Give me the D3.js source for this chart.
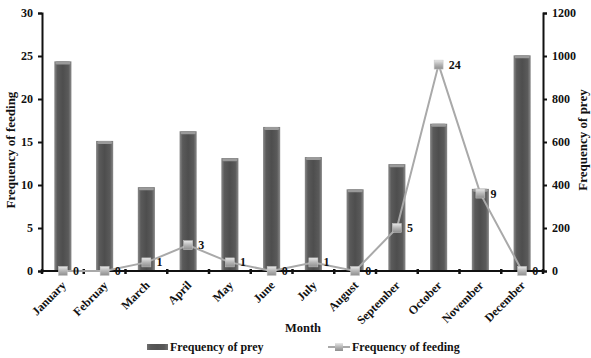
<!DOCTYPE html>
<html>
<head>
<meta charset="utf-8">
<script src="https://cdn.jsdelivr.net/npm/d3@7"></script>
<style>
body{margin:0;background:#fff;}
text{font-family:"Liberation Serif","Times New Roman",serif;font-weight:bold;fill:#111;}
</style>
</head>
<body>
<svg id="c" width="591" height="358"></svg>
<script>
const months = ["January","Februay","March","April","May","June","July","August","September","October","November","December"];
const preyFreq = [975, 605, 390, 650, 525, 670, 530, 380, 497, 685, 382, 1003];
const feedingFreq = [0, 0, 1, 3, 1, 0, 1, 0, 5, 24, 9, 0];
const leftTicks = [0, 5, 10, 15, 20, 25, 30];
const rightTicks = [0, 200, 400, 600, 800, 1000, 1200];

const svg = d3.select("#c");
const L = 42, R = 543, T = 13, B = 271;

const x = d3.scaleBand().domain(months).range([L, R]).padding(0);
const yL = d3.scaleLinear().domain([0, 30]).range([B, T]);
const yR = d3.scaleLinear().domain([0, 1200]).range([B, T]);

const defs = svg.append("defs");
const g1 = defs.append("linearGradient").attr("id","barG").attr("x1","0").attr("x2","1").attr("y1","0").attr("y2","0");
g1.append("stop").attr("offset","0").attr("stop-color","#8a8a8a");
g1.append("stop").attr("offset","0.18").attr("stop-color","#5a5a5a");
g1.append("stop").attr("offset","0.5").attr("stop-color","#4e4e4e");
g1.append("stop").attr("offset","0.82").attr("stop-color","#5a5a5a");
g1.append("stop").attr("offset","1").attr("stop-color","#8a8a8a");
const g2 = defs.append("linearGradient").attr("id","mkG").attr("x1","0").attr("x2","0").attr("y1","0").attr("y2","1");
g2.append("stop").attr("offset","0").attr("stop-color","#e8e8e8");
g2.append("stop").attr("offset","0.5").attr("stop-color","#b5b5b5");
g2.append("stop").attr("offset","1").attr("stop-color","#8e8e8e");

const bw = x.bandwidth() * 0.41;

// bars
const bars = svg.append("g");
bars.selectAll("rect.bar").data(months).join("rect")
  .attr("class","bar")
  .attr("x", d => x(d) + x.bandwidth()/2 - bw/2)
  .attr("width", bw)
  .attr("y", (d,i) => yR(preyFreq[i]))
  .attr("height", (d,i) => B - yR(preyFreq[i]))
  .attr("fill","url(#barG)");
bars.selectAll("rect.cap").data(months).join("rect")
  .attr("class","cap")
  .attr("x", d => x(d) + x.bandwidth()/2 - bw/2 + 1)
  .attr("width", bw - 2)
  .attr("y", (d,i) => yR(preyFreq[i]))
  .attr("height", 3)
  .attr("rx", 1.5)
  .attr("fill","#9a9a9a");

// axes
const axL = svg.append("g").attr("transform",`translate(${L},0)`)
  .call(d3.axisLeft(yL).tickValues(leftTicks).tickSize(4).tickPadding(5).tickFormat(d3.format("d")));
const axR = svg.append("g").attr("transform",`translate(${R},0)`)
  .call(d3.axisRight(yR).tickValues(rightTicks).tickSize(4).tickPadding(5).tickFormat(d3.format("d")));
[axL, axR].forEach(a => {
  a.select(".domain").attr("stroke","#111").attr("stroke-width",2);
  a.selectAll(".tick line").attr("stroke","#111").attr("stroke-width",2);
  a.selectAll("text").style("font-size","12px").style("font-family","Liberation Serif").style("font-weight","bold").attr("fill","#222");
});

// x axis
const axX = svg.append("g").attr("transform",`translate(0,${B})`);
axX.append("line").attr("x1",L).attr("x2",R).attr("stroke","#111").attr("stroke-width",2);
const bounds = months.map(m => x(m)).concat([R]);
axX.selectAll("line.tk").data(bounds).join("line").attr("class","tk")
  .attr("x1", d => d).attr("x2", d => d).attr("y1",-2).attr("y2",3)
  .attr("stroke","#111").attr("stroke-width",2.5);
axX.selectAll("text.ml").data(months).join("text").attr("class","ml")
  .attr("text-anchor","end")
  .attr("transform", d => `translate(${x(d)+x.bandwidth()/2+4},${15}) rotate(-45)`)
  .style("font-size","12px")
  .text(d => d);

// line
const line = d3.line().x((d,i) => x(months[i]) + x.bandwidth()/2).y(d => yL(d));
svg.append("path").datum(feedingFreq).attr("d", line)
  .attr("fill","none").attr("stroke","#a9a9a9").attr("stroke-width",2);
svg.append("g").selectAll("rect").data(feedingFreq).join("rect")
  .attr("x",(d,i) => x(months[i]) + x.bandwidth()/2 - 4.5)
  .attr("y", d => yL(d) - 4.5)
  .attr("width",9).attr("height",9)
  .attr("fill","url(#mkG)").attr("stroke","#c8c8c8").attr("stroke-width",0.5);
svg.append("g").selectAll("text").data(feedingFreq).join("text")
  .attr("x",(d,i) => x(months[i]) + x.bandwidth()/2 + 10)
  .attr("y", d => yL(d) + 4)
  .style("font-size","12px")
  .text(d => d);

// axis titles
svg.append("text").attr("transform",`translate(15,150) rotate(-90)`)
  .attr("text-anchor","middle").style("font-size","13px").text("Frequency of feeding");
svg.append("text").attr("transform",`translate(587,140) rotate(-90)`)
  .attr("text-anchor","middle").style("font-size","13px").text("Frequency of prey");
svg.append("text").attr("x",303).attr("y",332).attr("text-anchor","middle")
  .style("font-size","12.5px").text("Month");

// legend
const lg = svg.append("g").attr("transform","translate(0,347)");
lg.append("rect").attr("x",147).attr("y",-3).attr("width",21).attr("height",6).attr("fill","url(#barG)");
lg.append("rect").attr("x",147).attr("y",-3).attr("width",21).attr("height",6).attr("fill","#555").attr("opacity",0.5);
lg.append("text").attr("x",170).attr("y",4).style("font-size","12px").text("Frequency of prey");
lg.append("line").attr("x1",328).attr("x2",350).attr("stroke","#a9a9a9").attr("stroke-width",2);
lg.append("rect").attr("x",335).attr("y",-4).attr("width",8).attr("height",8).attr("fill","url(#mkG)");
lg.append("text").attr("x",352).attr("y",4).style("font-size","12px").text("Frequency of feeding");
</script>
</body>
</html>
